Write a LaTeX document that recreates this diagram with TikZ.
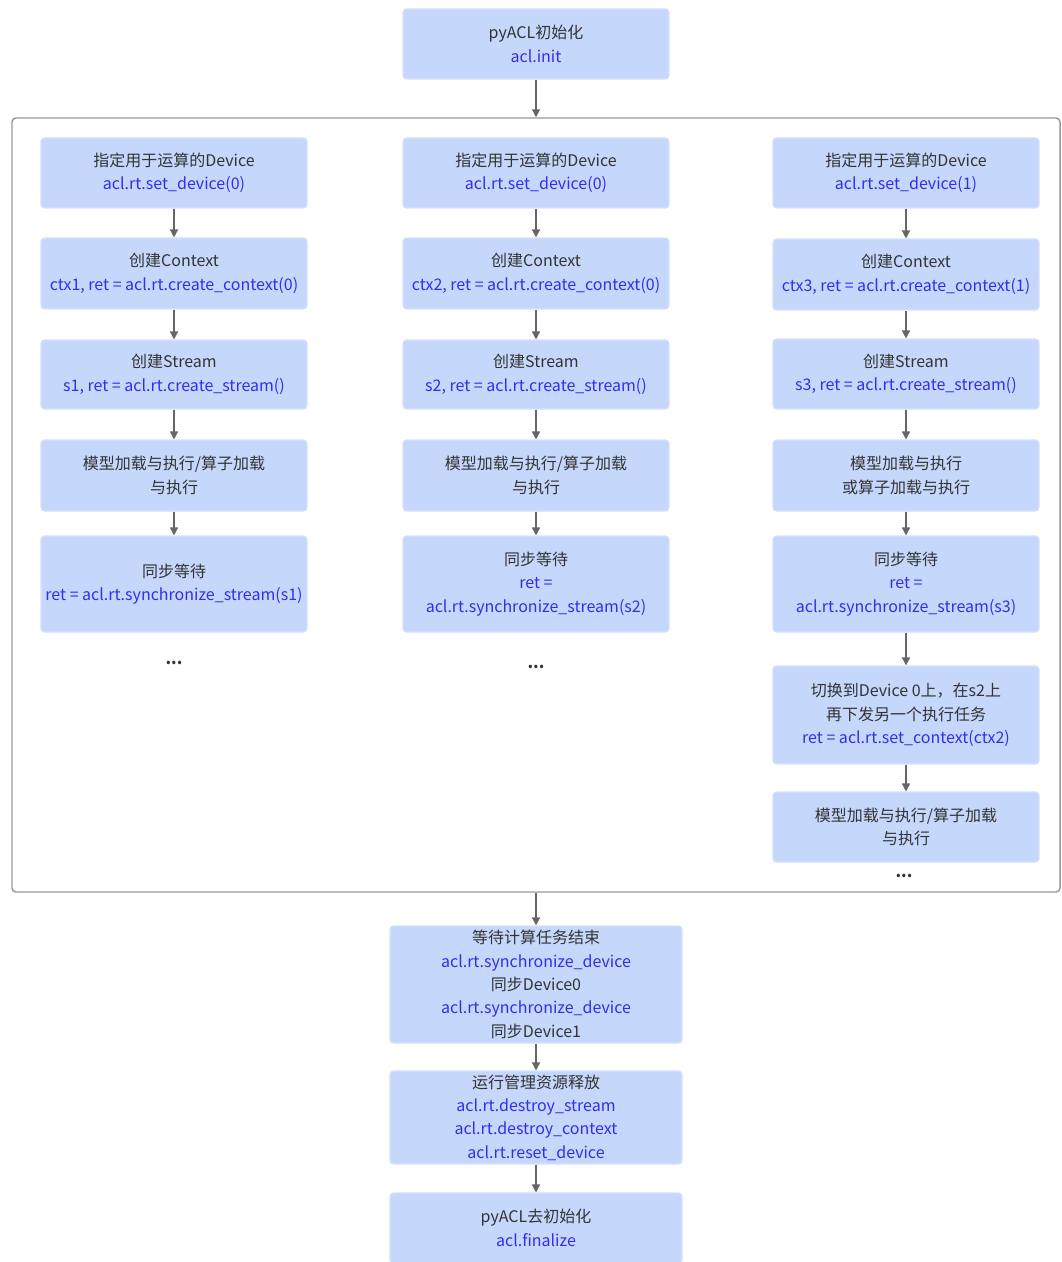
\documentclass[tikz,border=0pt]{standalone}
\usepackage{fontspec}
\setmainfont{Noto Sans CJK SC}
\usetikzlibrary{arrows.meta}
\definecolor{boxfill}{HTML}{C6D7FC}
\definecolor{boxedge}{HTML}{D6E1FC}
\definecolor{codeblue}{HTML}{2F2FF0}
\definecolor{txt}{HTML}{333333}
\definecolor{arr}{HTML}{666666}
\definecolor{framegray}{HTML}{999999}
\newcommand\code[1]{\textcolor{codeblue}{#1}}
\begin{document}
\begin{tikzpicture}[x=0.75pt,y=-0.75pt,
  box/.style={draw=boxedge, fill=boxfill, rounded corners=2.5pt, line width=0.8pt,
    minimum width=199.5pt, align=center, text=txt, inner sep=0pt,
    font=\fontsize{12}{17.5}\selectfont},
  wide/.style={minimum width=219pt},
  h/.style={minimum height=#1*0.75pt},
  flow/.style={draw=arr, line width=1.1pt, -{Triangle[length=6pt,width=6pt]}},
  dots/.style={text=txt, inner sep=0pt, font=\fontsize{12}{14}\selectfont\bfseries}
]
\useasboundingbox (0,0) rectangle (1061,1262);
\fill[white] (0,0) rectangle (1061,1262);

% initialisation
\node[box, h=70] (init) at (536,44) {pyACL初始化\\\code{acl.init}};

% group of the three parallel flows
\node[draw=framegray, line width=1.1pt, rounded corners=3pt, inner sep=0pt,
  minimum width=786pt, minimum height=580.5pt] (group) at (536,505) {};

% column 1: Device 0, context 1
\node[box, h=70] (a1) at (174,173) {指定用于运算的Device\\\code{acl.rt.set\_device(0)}};
\node[box, h=71] (a2) at (174,273.5) {创建Context\\\code{ctx1, ret = acl.rt.create\_context(0)}};
\node[box, h=69] (a3) at (174,374.5) {创建Stream\\\code{s1, ret = acl.rt.create\_stream()}};
\node[box, h=71] (a4) at (174,475.5) {模型加载与执行/算子加载\\与执行};
\node[box, h=96] (a5) at (174,584) {同步等待\\\code{ret = acl.rt.synchronize\_stream(s1)}};
\node[dots] (a6) at (174,663) {...};

% column 2: Device 0, context 2
\node[box, h=70] (b1) at (536,173) {指定用于运算的Device\\\code{acl.rt.set\_device(0)}};
\node[box, h=71] (b2) at (536,273.5) {创建Context\\\code{ctx2, ret = acl.rt.create\_context(0)}};
\node[box, h=69] (b3) at (536,374.5) {创建Stream\\\code{s2, ret = acl.rt.create\_stream()}};
\node[box, h=71] (b4) at (536,475.5) {模型加载与执行/算子加载\\与执行};
\node[box, h=96] (b5) at (536,584) {同步等待\\\code{ret =}\\\code{acl.rt.synchronize\_stream(s2)}};
\node[dots] (b6) at (536,667) {...};

% column 3: Device 1, context 3
\node[box, h=70] (c1) at (906,173) {指定用于运算的Device\\\code{acl.rt.set\_device(1)}};
\node[box, h=71] (c2) at (906,274.5) {创建Context\\\code{ctx3, ret = acl.rt.create\_context(1)}};
\node[box, h=70] (c3) at (906,374) {创建Stream\\\code{s3, ret = acl.rt.create\_stream()}};
\node[box, h=71] (c4) at (906,475.5) {模型加载与执行\\或算子加载与执行};
\node[box, h=96] (c5) at (906,584) {同步等待\\\code{ret =}\\\code{acl.rt.synchronize\_stream(s3)}};
\node[box, h=98] (c6) at (906,715) {切换到Device 0上，在s2上\\再下发另一个执行任务\\\code{ret = acl.rt.set\_context(ctx2)}};
\node[box, h=70] (c7) at (906,827) {模型加载与执行/算子加载\\与执行};
\node[dots] (c8) at (904,876) {...};

% synchronisation, release, finalisation
\node[box, wide, h=117] (sync) at (536,984.5) {等待计算任务结束\\\code{acl.rt.synchronize\_device}\\同步Device0\\\code{acl.rt.synchronize\_device}\\同步Device1};
\node[box, wide, h=93] (rel) at (536,1117.5) {运行管理资源释放\\\code{acl.rt.destroy\_stream}\\\code{acl.rt.destroy\_context}\\\code{acl.rt.reset\_device}};
\node[box, wide, h=70] (fin) at (536,1228) {pyACL去初始化\\\code{acl.finalize}};

% connectors
\draw[flow] (init) -- (group.north);
\foreach \p/\q in {a1/a2,a2/a3,a3/a4,a4/a5,b1/b2,b2/b3,b3/b4,b4/b5,c1/c2,c2/c3,c3/c4,c4/c5,c5/c6,c6/c7}
  \draw[flow] (\p) -- (\q);
\draw[flow] (group.south) -- (sync);
\draw[flow] (sync) -- (rel);
\draw[flow] (rel) -- (fin);
\end{tikzpicture}
\end{document}
